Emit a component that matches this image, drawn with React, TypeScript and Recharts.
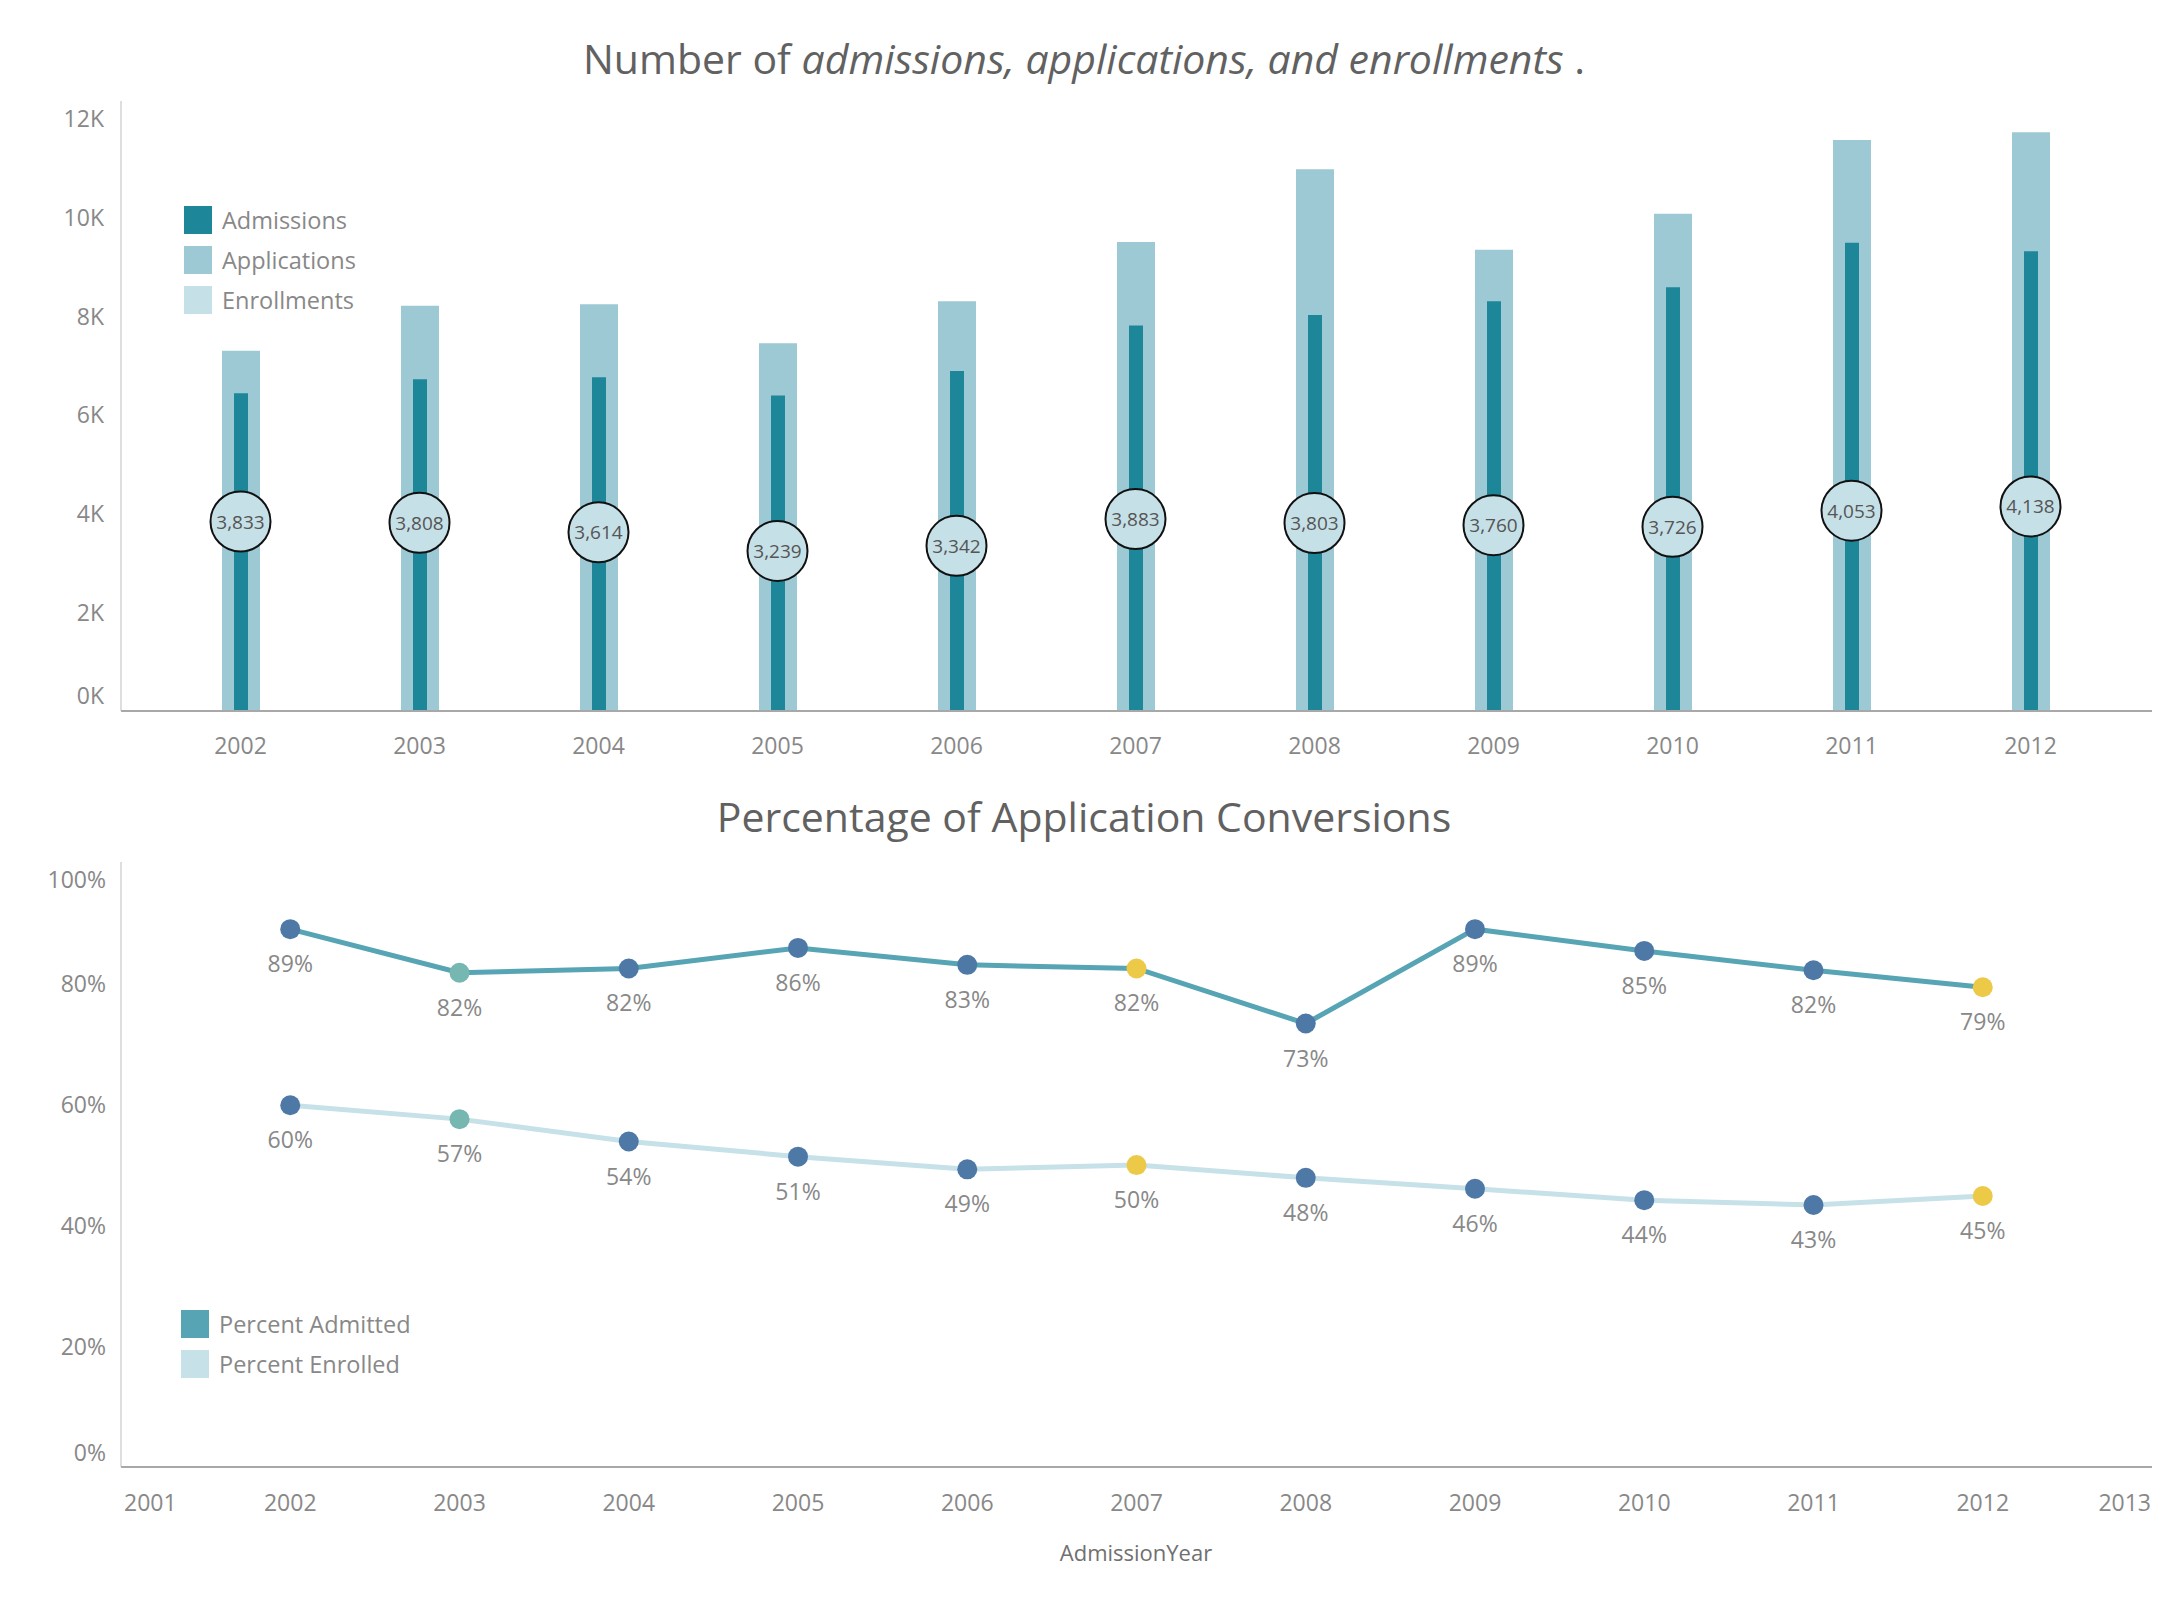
import React from 'react';
import { ComposedChart, LineChart, Bar, Line, XAxis, YAxis } from 'recharts';

// Admission counts per year
const years = ['2002', '2003', '2004', '2005', '2006', '2007', '2008', '2009', '2010', '2011', '2012'];
const applications = [7290, 8200, 8230, 7440, 8290, 9490, 10960, 9330, 10060, 11550, 11710];
const admissions = [6430, 6710, 6750, 6380, 6880, 7800, 8010, 8290, 8570, 9470, 9300];
const enrollments = [3833, 3808, 3614, 3239, 3342, 3883, 3803, 3760, 3726, 4053, 4138];

// Conversion rates per year
const rateYears = [2002, 2003, 2004, 2005, 2006, 2007, 2008, 2009, 2010, 2011, 2012];
const percentAdmitted = [0.889, 0.817, 0.824, 0.858, 0.83, 0.824, 0.733, 0.889, 0.853, 0.821, 0.793];
const percentEnrolled = [0.598, 0.575, 0.538, 0.513, 0.492, 0.499, 0.478, 0.46, 0.441, 0.433, 0.448];
const pointColors = ['#4e79a7', '#76b7b2', '#4e79a7', '#4e79a7', '#4e79a7', '#edc948', '#4e79a7', '#4e79a7', '#4e79a7', '#4e79a7', '#edc948'];

// Axis ticks
const countTicks = [0, 2000, 4000, 6000, 8000, 10000, 12000];
const rateTicks = [0, 0.2, 0.4, 0.6, 0.8, 1];
const yearTicks = [2001, 2002, 2003, 2004, 2005, 2006, 2007, 2008, 2009, 2010, 2011, 2012, 2013];

const C_ADMISSIONS = '#1d8799';
const C_APPLICATIONS = '#9dc9d4';
const C_ENROLLMENTS = '#c6e0e7';
const C_ADMITTED_LINE = '#56a4b4';
const C_ENROLLED_LINE = '#c6e1e8';
const TEXT = '#888888';
const FONT = '"Open Sans", "Noto Sans", sans-serif';

const countData = years.map((year, i) => ({
  year,
  applications: applications[i],
  admissions: admissions[i],
  enrollments: enrollments[i],
}));

const rateData = rateYears.map((year, i) => ({
  year,
  admitted: percentAdmitted[i],
  enrolled: percentEnrolled[i],
}));

function CountYTick(props: any) {
  const { y, payload } = props;
  const v = payload.value as number;
  const yy = v === 0 ? y - 16 : y;
  return (
    <text x={104} y={yy} textAnchor="end" dominantBaseline="central" fontSize={23} fill={TEXT} fontFamily={FONT}>
      {v / 1000}K
    </text>
  );
}

function CountXTick(props: any) {
  const { x, y, payload } = props;
  return (
    <text x={x} y={y + 26} textAnchor="middle" dominantBaseline="central" fontSize={23} fill={TEXT} fontFamily={FONT}>
      {payload.value}
    </text>
  );
}

function RateYTick(props: any) {
  const { y, payload } = props;
  const v = payload.value as number;
  let yy = y;
  if (v === 1) yy = y + 17;
  if (v === 0) yy = y - 15;
  return (
    <text x={106} y={yy} textAnchor="end" dominantBaseline="central" fontSize={23} fill={TEXT} fontFamily={FONT}>
      {Math.round(v * 100)}%
    </text>
  );
}

function RateXTick(props: any) {
  const { x, y, payload } = props;
  const v = payload.value as number;
  let anchor: 'start' | 'middle' | 'end' = 'middle';
  let xx = x;
  if (v === 2001) {
    anchor = 'start';
    xx = x + 3;
  } else if (v === 2013) {
    anchor = 'end';
    xx = x - 1;
  }
  return (
    <text x={xx} y={y + 27} textAnchor={anchor} dominantBaseline="central" fontSize={23} fill={TEXT} fontFamily={FONT}>
      {v}
    </text>
  );
}

function EnrollmentBubble(props: any) {
  const { cx, cy, payload } = props;
  if (cx == null || cy == null) return null;
  return (
    <g>
      <circle cx={cx} cy={cy} r={30} fill={C_ENROLLMENTS} stroke="#111" strokeWidth={2} />
      <text x={cx} y={cy} textAnchor="middle" dominantBaseline="central" fontSize={19} fill="#555" fontFamily={FONT}>
        {payload.enrollments.toLocaleString('en-US')}
      </text>
    </g>
  );
}

function YearDot(props: any) {
  const { cx, cy, index } = props;
  if (cx == null || cy == null) return null;
  return <circle cx={cx} cy={cy} r={10} fill={pointColors[index]} />;
}

function PercentLabel(props: any) {
  const { x, y, value } = props;
  if (x == null || y == null) return null;
  return (
    <text x={x} y={y + 34} textAnchor="middle" dominantBaseline="central" fontSize={23} fill={TEXT} fontFamily={FONT}>
      {Math.round(value * 100)}%
    </text>
  );
}

function LegendRow({ color, label, top, left }: { color: string; label: string; top: number; left: number }) {
  return (
    <div style={{ position: 'absolute', left, top, height: 28, display: 'flex', alignItems: 'center' }}>
      <div style={{ width: 28, height: 28, background: color }} />
      <span style={{ marginLeft: 10, fontSize: 23.5, color: TEXT, fontFamily: FONT, lineHeight: '28px' }}>{label}</span>
    </div>
  );
}

const titleStyle: React.CSSProperties = {
  position: 'absolute',
  left: 0,
  width: 2168,
  textAlign: 'center',
  fontSize: 41,
  color: '#616161',
  lineHeight: '52px',
  fontFamily: FONT,
};

export default function App() {
  return (
    <div style={{ position: 'absolute', left: 0, top: 0, width: 2180, height: 1600, background: '#fff', fontFamily: FONT }}>
      <div style={{ ...titleStyle, top: 32 }}>
        Number of <i>admissions, applications, and enrollments</i> .
      </div>

      <div style={{ position: 'absolute', left: 0, top: 0 }}>
        <ComposedChart width={2180} height={800} data={countData} margin={{ top: 101, right: 28, left: 0, bottom: 0 }}>
          <XAxis xAxisId="adms" dataKey="year" hide height={0} padding={{ left: 30, right: 32 }} />
          <XAxis
            xAxisId="apps"
            dataKey="year"
            height={89}
            padding={{ left: 30, right: 32 }}
            axisLine={{ stroke: '#a8a8a8', strokeWidth: 2 }}
            tickLine={false}
            tick={<CountXTick />}
            interval={0}
          />
          <YAxis
            width={121}
            domain={[0, 12340]}
            ticks={countTicks}
            axisLine={{ stroke: '#bdbdbd', strokeWidth: 1 }}
            tickLine={false}
            tick={<CountYTick />}
            interval={0}
          />
          <Bar xAxisId="apps" dataKey="applications" fill={C_APPLICATIONS} barSize={38} isAnimationActive={false} />
          <Bar xAxisId="adms" dataKey="admissions" fill={C_ADMISSIONS} barSize={14} isAnimationActive={false} />
          <Line
            xAxisId="apps"
            dataKey="enrollments"
            stroke="none"
            dot={<EnrollmentBubble />}
            activeDot={false}
            isAnimationActive={false}
          />
        </ComposedChart>
      </div>

      <LegendRow color={C_ADMISSIONS} label="Admissions" top={206} left={184} />
      <LegendRow color={C_APPLICATIONS} label="Applications" top={246} left={184} />
      <LegendRow color={C_ENROLLMENTS} label="Enrollments" top={286} left={184} />

      <div style={{ ...titleStyle, top: 790 }}>Percentage of Application Conversions</div>

      <div style={{ position: 'absolute', left: 0, top: 800 }}>
        <LineChart width={2180} height={800} data={rateData} margin={{ top: 62, right: 28, left: 0, bottom: 0 }}>
          <XAxis
            type="number"
            dataKey="year"
            domain={[2001, 2013]}
            ticks={yearTicks}
            height={133}
            axisLine={{ stroke: '#a8a8a8', strokeWidth: 2 }}
            tickLine={false}
            tick={<RateXTick />}
            interval={0}
          />
          <YAxis
            width={121}
            domain={[0, 1]}
            ticks={rateTicks}
            axisLine={{ stroke: '#bdbdbd', strokeWidth: 1 }}
            tickLine={false}
            tick={<RateYTick />}
            interval={0}
          />
          <Line
            dataKey="enrolled"
            stroke={C_ENROLLED_LINE}
            strokeWidth={5}
            dot={<YearDot />}
            activeDot={false}
            label={<PercentLabel />}
            isAnimationActive={false}
          />
          <Line
            dataKey="admitted"
            stroke={C_ADMITTED_LINE}
            strokeWidth={5}
            dot={<YearDot />}
            activeDot={false}
            label={<PercentLabel />}
            isAnimationActive={false}
          />
        </LineChart>
      </div>

      <LegendRow color={C_ADMITTED_LINE} label="Percent Admitted" top={1310} left={181} />
      <LegendRow color={C_ENROLLED_LINE} label="Percent Enrolled" top={1350} left={181} />

      <div
        style={{
          position: 'absolute',
          left: 1036,
          top: 1538,
          width: 200,
          textAlign: 'center',
          fontSize: 22,
          color: '#707070',
          lineHeight: '28px',
          fontFamily: FONT,
        }}
      >
        AdmissionYear
      </div>
    </div>
  );
}
